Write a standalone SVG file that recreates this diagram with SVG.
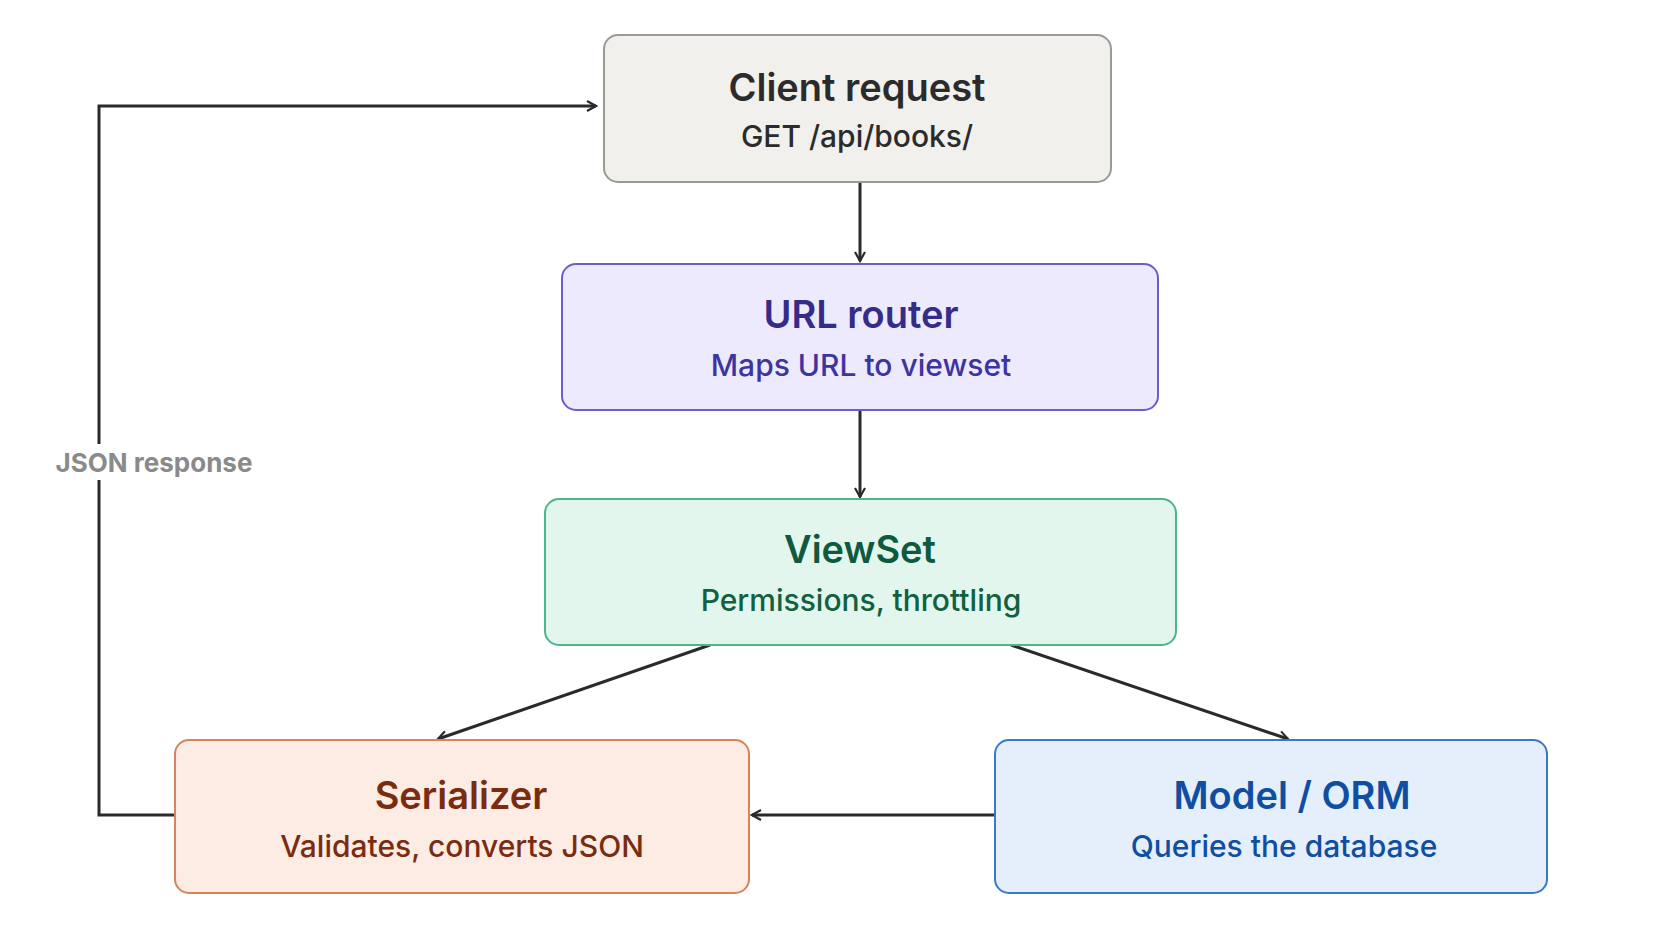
<svg xmlns="http://www.w3.org/2000/svg" width="1679" height="937" viewBox="0 0 1679 937">
<style>
.t{font-family:Inter,"Noto Sans",sans-serif;font-weight:600;font-size:38px;text-anchor:middle}
.s{font-family:Inter,"Noto Sans",sans-serif;font-weight:500;font-size:30px;text-anchor:middle}
.c{fill:none;stroke:#2a2a2a;stroke-width:3}
</style>
<defs><marker id="a" viewBox="0 0 12 12" refX="10" refY="6" markerWidth="12" markerHeight="12" markerUnits="userSpaceOnUse" orient="auto"><path d="M1,1 L10,6 L1,11" fill="none" stroke="#2a2a2a" stroke-width="2.2"/></marker></defs>
<rect width="1679" height="937" fill="#fff"/>
<g id="connectors">
<path class="c" d="M860,182 V261" marker-end="url(#a)"/>
<path class="c" d="M860,410 V497" marker-end="url(#a)"/>
<path class="c" d="M710,645 L438,739" marker-end="url(#a)"/>
<path class="c" d="M1011,645 L1288,739" marker-end="url(#a)"/>
<path class="c" d="M995,815 H752" marker-end="url(#a)"/>
<path class="c" d="M175,815 H99 V106 H596" marker-end="url(#a)"/>
<rect x="48" y="444" width="212" height="36" fill="#fff"/>
<text x="154" y="472" font-family="Inter,'Noto Sans',sans-serif" font-weight="700" font-size="26" fill="#8a8a8a" text-anchor="middle">JSON response</text>
</g>
<g id="client"><rect x="604" y="35" width="507" height="147" rx="14" fill="#f1f0ec" stroke="#9a9a96" stroke-width="2"/>
<text class="t" x="857" y="101" fill="#2b2b2b">Client request</text><text class="s" x="857" y="147" fill="#2b2b2b">GET /api/books/</text></g>
<g id="router"><rect x="562" y="264" width="596" height="146" rx="14" fill="#eceafc" stroke="#6a5fc8" stroke-width="2"/>
<text class="t" x="861" y="328" fill="#352c8a">URL router</text><text class="s" x="861" y="376" fill="#3d34a0">Maps URL to viewset</text></g>
<g id="viewset"><rect x="545" y="499" width="631" height="146" rx="14" fill="#e2f6ee" stroke="#4cb58a" stroke-width="2"/>
<text class="t" x="860" y="563" fill="#0f5a3e">ViewSet</text><text class="s" x="861" y="611" fill="#11603f">Permissions, throttling</text></g>
<g id="serializer"><rect x="175" y="740" width="574" height="153" rx="14" fill="#fdece4" stroke="#d8825e" stroke-width="2"/>
<text class="t" x="461" y="809" fill="#7a2c10">Serializer</text><text class="s" x="462" y="857" fill="#7a2c10">Validates, converts JSON</text></g>
<g id="model"><rect x="995" y="740" width="552" height="153" rx="14" fill="#e5effc" stroke="#3b78c8" stroke-width="2"/>
<text class="t" x="1292" y="809" fill="#0f4ea0">Model / ORM</text><text class="s" x="1284" y="857" fill="#0f4ea0">Queries the database</text></g>
</svg>
